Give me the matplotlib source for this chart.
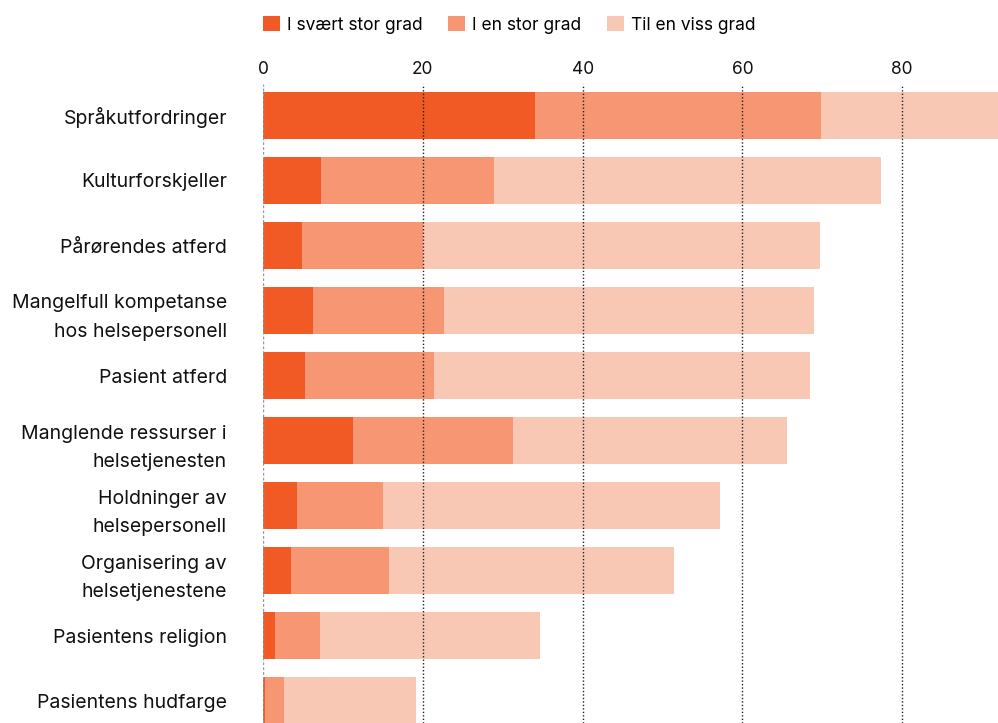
import matplotlib
matplotlib.use("Agg")
import matplotlib.pyplot as plt
import numpy as np
from matplotlib.patches import Patch

plt.rcParams['font.family'] = ['Inter', 'DejaVu Sans']

categories = [
    "Språkutfordringer",
    "Kulturforskjeller",
    "Pårørendes atferd",
    "Mangelfull kompetanse\nhos helsepersonell",
    "Pasient atferd",
    "Manglende ressurser i\nhelsetjenesten",
    "Holdninger av\nhelsepersonell",
    "Organisering av\nhelsetjenestene",
    "Pasientens religion",
    "Pasientens hudfarge",
]
svaert_stor = [34.0, 7.3, 4.9, 6.3, 5.3, 11.3, 4.3, 3.5, 1.5, 0.3]
stor = [35.8, 21.6, 15.1, 16.4, 16.1, 20.0, 10.7, 12.3, 5.6, 2.3]
viss = [22.5, 48.4, 49.7, 46.3, 47.1, 34.3, 42.2, 35.6, 27.6, 16.5]

series_names = ["I svært stor grad", "I en stor grad", "Til en viss grad"]
colors = ["#F15A24", "#F69672", "#F9C8B5"]

fig = plt.figure(figsize=(9.98, 7.23), dpi=100)
ax = fig.add_axes([263 / 998, 0, 1 - 263 / 998, 1 - 84 / 723])

y = np.arange(len(categories))
left = np.zeros(len(categories))
for vals, c in zip([svaert_stor, stor, viss], colors):
    ax.barh(y, vals, left=left, height=0.72, color=c, zorder=1)
    left += np.array(vals)

ax.set_xlim(0, 92)
ax.set_ylim(9.34, -0.48)

# grid lines on top of the bars
for xv in [20, 40, 60, 80]:
    ax.axvline(xv, color="#222222", linestyle=(0, (1, 1.5)), linewidth=1, zorder=3)
ax.axvline(0, color="#999999", linestyle=(0, (2, 1.5)), linewidth=1, zorder=3)

ax.xaxis.tick_top()
ax.set_xticks([0, 20, 40, 60, 80])
ax.tick_params(axis="x", length=0, pad=4, labelsize=12.5, colors="#111111")
ax.set_yticks(y)
ax.set_yticklabels(categories, fontsize=14, color="#111111", linespacing=1.75)
ax.tick_params(axis="y", length=0, pad=26)
for s in ax.spines.values():
    s.set_visible(False)

handles = [Patch(facecolor=c, label=n) for c, n in zip(colors, series_names)]
fig.legend(handles=handles, loc="upper left", bbox_to_anchor=(256 / 998, 1 - 9 / 723),
           ncol=3, frameon=False, fontsize=12.5, handlelength=1.0, handleheight=1.0,
           handletextpad=0.4, columnspacing=1.45, borderaxespad=0)

fig.savefig("out.png", dpi=100)
